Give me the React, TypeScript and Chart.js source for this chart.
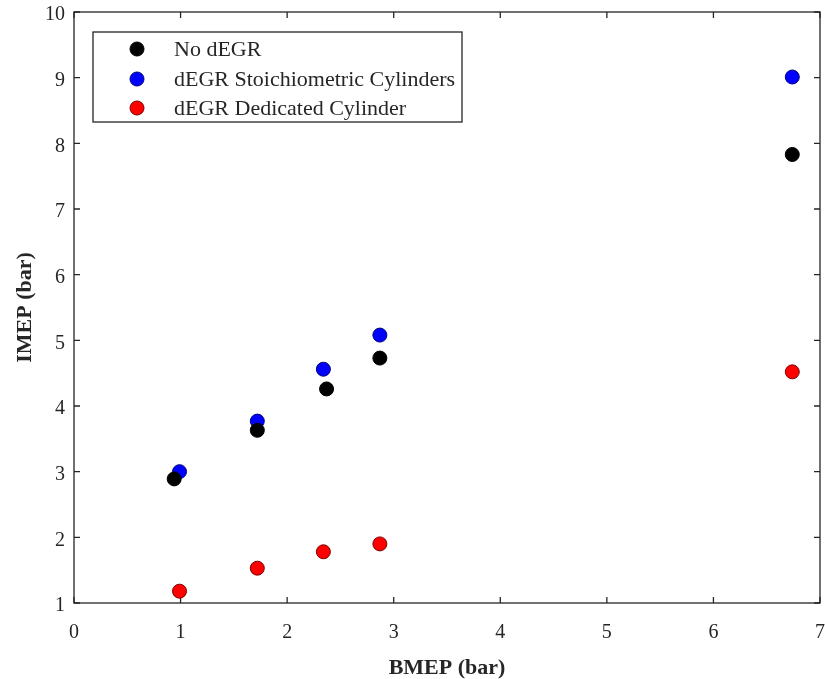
import React, { useEffect, useRef } from "react";
import { Chart, registerables } from "chart.js";

Chart.register(...registerables);

const seriesLabels = ["No dEGR", "dEGR Stoichiometric Cylinders", "dEGR Dedicated Cylinder"];
const noDegrX = [0.94, 1.72, 2.37, 2.87, 6.74];
const noDegrY = [2.89, 3.63, 4.26, 4.73, 7.83];
const stoichX = [0.99, 1.72, 2.34, 2.87, 6.74];
const stoichY = [3.0, 3.77, 4.56, 5.08, 9.01];
const dedicatedX = [0.99, 1.72, 2.34, 2.87, 6.74];
const dedicatedY = [1.18, 1.53, 1.78, 1.9, 4.52];
const xTicks = [0, 1, 2, 3, 4, 5, 6, 7];
const yTicks = [1, 2, 3, 4, 5, 6, 7, 8, 9, 10];

const fills = ["#000000", "#0000ff", "#ff0000"];
const borders = ["#000000", "#00007a", "#7a0000"];
const AXIS = "#262626";
const FONT = "'Liberation Serif', 'Times New Roman', serif";

const toPts = (xs: number[], ys: number[]) => xs.map((x, i) => ({ x, y: ys[i] }));

const boxPlugin = {
  id: "boxPlugin",
  beforeDatasetsDraw(chart: any) {
    const { ctx, chartArea: a, scales } = chart;
    ctx.save();
    ctx.strokeStyle = AXIS;
    ctx.lineWidth = 1.3;
    ctx.strokeRect(a.left, a.top, a.right - a.left, a.bottom - a.top);
    const tl = 6;
    ctx.beginPath();
    xTicks.forEach((v) => {
      const px = scales.x.getPixelForValue(v);
      ctx.moveTo(px, a.bottom);
      ctx.lineTo(px, a.bottom - tl);
      ctx.moveTo(px, a.top);
      ctx.lineTo(px, a.top + tl);
    });
    yTicks.forEach((v) => {
      const py = scales.y.getPixelForValue(v);
      ctx.moveTo(a.left, py);
      ctx.lineTo(a.left + tl, py);
      ctx.moveTo(a.right, py);
      ctx.lineTo(a.right - tl, py);
    });
    ctx.stroke();
    ctx.restore();
  },
  afterDraw(chart: any) {
    const { ctx } = chart;
    ctx.save();
    const bx = 93, by = 32, bw = 369, bh = 90;
    ctx.fillStyle = "#ffffff";
    ctx.fillRect(bx, by, bw, bh);
    ctx.strokeStyle = AXIS;
    ctx.lineWidth = 1.3;
    ctx.strokeRect(bx, by, bw, bh);
    ctx.font = `22px ${FONT}`;
    ctx.textBaseline = "middle";
    ctx.textAlign = "left";
    const rows = [49, 79, 108];
    chart.data.datasets.forEach((ds: any, i: number) => {
      ctx.beginPath();
      ctx.arc(137, rows[i], 7, 0, Math.PI * 2);
      ctx.fillStyle = fills[i];
      ctx.fill();
      ctx.strokeStyle = borders[i];
      ctx.lineWidth = 1;
      ctx.stroke();
      ctx.fillStyle = "#262626";
      ctx.fillText(ds.label, 174, rows[i] + 1);
    });
    ctx.restore();
  },
};

export default function App() {
  const ref = useRef<HTMLCanvasElement | null>(null);
  useEffect(() => {
    if (!ref.current) return;
    const mk = (i: number, xs: number[], ys: number[]) => ({
      label: seriesLabels[i],
      data: toPts(xs, ys),
      backgroundColor: fills[i],
      borderColor: borders[i],
      borderWidth: 1,
      pointRadius: 7,
      pointHoverRadius: 7,
      showLine: false,
      clip: false as any,
    });
    const chart = new Chart(ref.current, {
      type: "scatter",
      data: {
        datasets: [
          mk(0, noDegrX, noDegrY),
          mk(1, stoichX, stoichY),
          mk(2, dedicatedX, dedicatedY),
        ],
      },
      options: {
        animation: false,
        responsive: false,
        maintainAspectRatio: false,
        layout: { autoPadding: false, padding: { top: 12, right: 5, left: 0, bottom: 0 } },
        plugins: { legend: { display: false }, tooltip: { enabled: false } },
        scales: {
          x: {
            type: "linear",
            min: 0,
            max: 7,
            afterFit: (s: any) => { s.height = 76; s.paddingLeft = 0; s.paddingRight = 0; },
            afterBuildTicks: (s: any) => { s.ticks = xTicks.map((v) => ({ value: v })); },
            grid: { display: false, drawTicks: false },
            border: { display: false },
            ticks: { color: AXIS, font: { family: FONT, size: 20 }, padding: 18 },
            title: {
              display: true,
              text: "BMEP (bar)",
              color: AXIS,
              font: { family: FONT, size: 22, weight: "bold", lineHeight: 1.0 },
              padding: { top: 0, bottom: 0 },
            },
          },
          y: {
            type: "linear",
            min: 1,
            max: 10,
            afterFit: (s: any) => { s.width = 74; s.paddingTop = 0; s.paddingBottom = 0; },
            afterBuildTicks: (s: any) => { s.ticks = yTicks.map((v) => ({ value: v })); },
            grid: { display: false, drawTicks: false },
            border: { display: false },
            ticks: { color: AXIS, font: { family: FONT, size: 20 }, padding: 9, labelOffset: 3 },
            title: {
              display: true,
              text: "IMEP (bar)",
              color: AXIS,
              font: { family: FONT, size: 22, weight: "bold" },
              padding: { top: 12, bottom: 0 },
            },
          },
        },
      },
      plugins: [boxPlugin],
    });
    return () => chart.destroy();
  }, []);
  return (
    <div style={{ position: "absolute", left: 0, top: 0, width: 825, height: 679, background: "#fff" }}>
      <canvas ref={ref} width={825} height={679} style={{ width: 825, height: 679 }} />
    </div>
  );
}
